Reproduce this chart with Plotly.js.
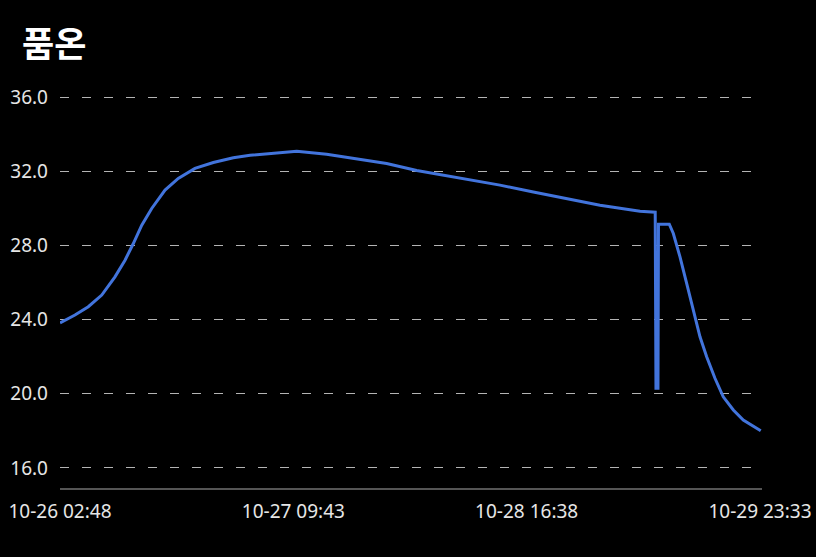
<!DOCTYPE html>
<html>
<head>
<meta charset="utf-8">
<script src="https://cdn.plot.ly/plotly-3.0.1.min.js"></script>
<style>html,body{margin:0;padding:0;background:#000;}#chart{width:816px;height:557px;}</style>
</head>
<body>
<div id="chart"></div>
<script>
const times = [
  '2023-10-26 02:48','2023-10-26 04:47','2023-10-26 06:33','2023-10-26 08:20','2023-10-26 10:05',
  '2023-10-26 11:25','2023-10-26 12:31','2023-10-26 13:38','2023-10-26 14:57','2023-10-26 16:43',
  '2023-10-26 18:28','2023-10-26 20:41','2023-10-26 23:07','2023-10-27 01:46','2023-10-27 03:59',
  '2023-10-27 06:11','2023-10-27 10:10','2023-10-27 14:08','2023-10-27 18:07','2023-10-27 22:05',
  '2023-10-28 02:04','2023-10-28 04:16','2023-10-28 08:41','2023-10-28 13:06','2023-10-28 17:31',
  '2023-10-28 21:56','2023-10-29 02:21','2023-10-29 06:46','2023-10-29 07:39','2023-10-29 09:40',
  '2023-10-29 09:46','2023-10-29 10:02','2023-10-29 10:06','2023-10-29 10:18','2023-10-29 11:32',
  '2023-10-29 12:04','2023-10-29 12:57','2023-10-29 13:50','2023-10-29 14:43','2023-10-29 15:36',
  '2023-10-29 16:29','2023-10-29 17:35','2023-10-29 18:41','2023-10-29 20:01','2023-10-29 21:20',
  '2023-10-29 22:40','2023-10-29 23:39'
];
const temps = [
  23.83, 24.25, 24.70, 25.33, 26.31,
  27.21, 28.11, 29.10, 30.00, 30.99,
  31.62, 32.16, 32.48, 32.74, 32.87,
  32.96, 33.09, 32.93, 32.70, 32.43,
  32.05, 31.89, 31.56, 31.26, 30.89,
  30.54, 30.18, 29.91, 29.85, 29.80,
  20.30, 20.30, 29.15, 29.15, 29.15,
  28.65, 27.39, 25.96, 24.52, 23.08,
  22.00, 20.84, 19.84, 19.13, 18.59,
  18.23, 18.01
];
const tickVals = ['2023-10-26 02:48','2023-10-27 09:43','2023-10-28 16:38','2023-10-29 23:33'];
const tickText = ['10-26 02:48','10-27 09:43','10-28 16:38','10-29 23:33'];
const yTicks = [16, 20, 24, 28, 32, 36];
const titleText = '품온';

Plotly.newPlot('chart', [{
  x: times, y: temps, type: 'scatter', mode: 'lines',
  line: {color: '#4274dc', width: 3}, hoverinfo: 'skip'
}], {
  width: 816, height: 557,
  paper_bgcolor: '#000', plot_bgcolor: '#000',
  font: {family: 'Noto Sans, Noto Sans CJK KR, sans-serif', color: '#e6e6e6', size: 19},
  title: {text: '<b>' + titleText + '</b>', x: 0.027, xanchor: 'left', y: 0.919, yanchor: 'middle',
          font: {family: 'Noto Sans CJK KR, Noto Sans, sans-serif', size: 35, color: '#ffffff'}},
  margin: {l: 60, r: 54, t: 88, b: 69},
  showlegend: false,
  xaxis: {
    type: 'date', range: ['2023-10-26 02:48', '2023-10-29 23:49'],
    tickvals: tickVals, ticktext: tickText, showgrid: false, zeroline: false,
    showline: true, linecolor: '#555', linewidth: 1.5, ticks: '',
    tickfont: {size: 19, color: '#e6e6e6'}, ticklabelstandoff: 6
  },
  yaxis: {
    range: [14.92, 36.5], tickvals: yTicks, tickformat: '.1f',
    showgrid: true, gridcolor: '#b4b4b4', gridwidth: 1, griddash: '9px,13px',
    zeroline: false, showline: false, ticks: '',
    tickfont: {size: 19, color: '#e6e6e6'}, ticklabelstandoff: 11
  }
}, {displayModeBar: false, staticPlot: true});
</script>
</body>
</html>
